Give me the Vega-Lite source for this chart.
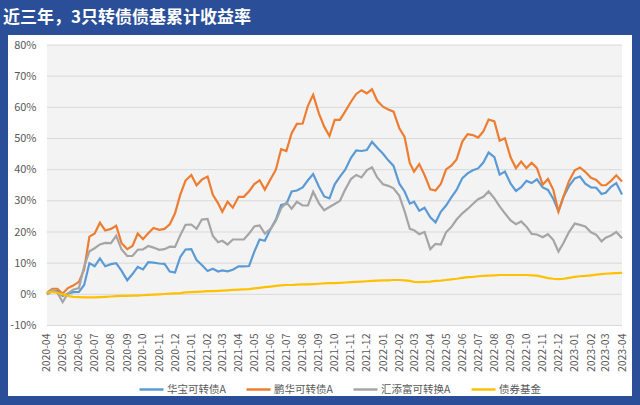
{
  "$schema": "https://vega.github.io/schema/vega-lite/v6.json",
  "width": 624,
  "height": 361,
  "autosize": {"type": "none"},
  "padding": {"left": 8, "right": 8, "top": 35, "bottom": 9},
  "background": "#2A4F98",
  "title": {
    "text": "近三年，3只转债债基累计收益率",
    "anchor": "start",
    "frame": "group",
    "color": "#FFFFFF",
    "font": "Noto Sans CJK SC",
    "fontSize": 17,
    "fontWeight": "bold",
    "dx": -5,
    "offset": 8
  },
  "config": {
    "font": "Noto Sans CJK SC",
    "view": {"fill": "#FFFFFF", "stroke": null},
    "axisX": {
      "offset": -70,
      "tickCount": {"interval": "month", "step": 1},
      "labelExpr": "datum.value < datetime(2020, 2, 15) ? '' : timeFormat(datum.value, '%Y-%m')",
      "labelAngle": -90,
      "labelFontSize": 10.5,
      "labelColor": "#595959",
      "labelPadding": 7,
      "labelOverlap": false,
      "labelFlush": false,
      "labelBound": false,
      "ticks": false,
      "domain": false,
      "grid": false,
      "title": null
    },
    "axisY": {
      "offset": -30,
      "labelFontSize": 11,
      "labelColor": "#595959",
      "labelPadding": 2,
      "labelFlush": false,
      "labelOverlap": false,
      "ticks": false,
      "domain": false,
      "grid": false,
      "title": null
    }
  },
  "datasets": {
    "grid": [{"g": -10}, {"g": 0}, {"g": 10}, {"g": 20}, {"g": 30}, {"g": 40}, {"g": 50}, {"g": 60}, {"g": 70}, {"g": 80}],
    "funds": [
      {"date": "2020/04/01", "华宝可转债A": 0, "鹏华可转债A": 0.5, "汇添富可转换A": 0, "债券基金": 0.5},
      {"date": "2020/04/11", "华宝可转债A": 1, "鹏华可转债A": 1.8, "汇添富可转换A": 1.5, "债券基金": 0.8},
      {"date": "2020/04/21", "华宝可转债A": 1, "鹏华可转债A": 1.8, "汇添富可转换A": 0.5, "债券基金": 0.5},
      {"date": "2020/05/01", "华宝可转债A": -0.5, "鹏华可转债A": 0.2, "汇添富可转换A": -2.5, "债券基金": 0},
      {"date": "2020/05/11", "华宝可转债A": 0.2, "鹏华可转债A": 2, "汇添富可转换A": 0.3, "债券基金": -0.5},
      {"date": "2020/05/21", "华宝可转债A": 0.7, "鹏华可转债A": 2.8, "汇添富可转换A": 1.5, "债券基金": -0.8},
      {"date": "2020/06/01", "华宝可转债A": 0.8, "鹏华可转债A": 4, "汇添富可转换A": 2, "债券基金": -0.9},
      {"date": "2020/06/11", "华宝可转债A": 3, "鹏华可转债A": 8, "汇添富可转换A": 9, "债券基金": -1},
      {"date": "2020/06/21", "华宝可转债A": 10, "鹏华可转债A": 18.5, "汇添富可转换A": 13.8, "债券基金": -1},
      {"date": "2020/07/01", "华宝可转债A": 9, "鹏华可转债A": 19.5, "汇添富可转换A": 14.8, "债券基金": -1},
      {"date": "2020/07/11", "华宝可转债A": 11.5, "鹏华可转债A": 23, "汇添富可转换A": 16, "债券基金": -0.9},
      {"date": "2020/07/21", "华宝可转债A": 9, "鹏华可转债A": 20.5, "汇添富可转换A": 16.5, "债券基金": -0.8},
      {"date": "2020/08/01", "华宝可转债A": 9.7, "鹏华可转债A": 21, "汇添富可转换A": 16.4, "债券基金": -0.7},
      {"date": "2020/08/11", "华宝可转债A": 10, "鹏华可转债A": 22, "汇添富可转换A": 18.8, "债券基金": -0.6},
      {"date": "2020/08/21", "华宝可转债A": 7.6, "鹏华可转债A": 16.5, "汇添富可转换A": 14.5, "债券基金": -0.5},
      {"date": "2020/09/01", "华宝可转债A": 4.5, "鹏华可转债A": 14.5, "汇添富可转换A": 12.3, "债券基金": -0.5},
      {"date": "2020/09/11", "华宝可转债A": 6.5, "鹏华可转债A": 15.5, "汇添富可转换A": 12.3, "债券基金": -0.4},
      {"date": "2020/09/21", "华宝可转债A": 8.8, "鹏华可转债A": 19.5, "汇添富可转换A": 14.3, "债券基金": -0.4},
      {"date": "2020/10/01", "华宝可转债A": 8, "鹏华可转债A": 17.7, "汇添富可转换A": 14.4, "债券基金": -0.3},
      {"date": "2020/10/11", "华宝可转债A": 10.3, "鹏华可转债A": 19.6, "汇添富可转换A": 15.5, "债券基金": -0.2},
      {"date": "2020/10/21", "华宝可转债A": 10.2, "鹏华可转债A": 21.3, "汇添富可转换A": 15, "债券基金": -0.1},
      {"date": "2020/11/01", "华宝可转债A": 9.9, "鹏华可转债A": 20.7, "汇添富可转换A": 14.3, "债券基金": 0},
      {"date": "2020/11/11", "华宝可转债A": 9.8, "鹏华可转债A": 21, "汇添富可转换A": 14.5, "债券基金": 0.1},
      {"date": "2020/11/21", "华宝可转债A": 7.3, "鹏华可转债A": 22.5, "汇添富可转换A": 15.3, "债券基金": 0.2},
      {"date": "2020/12/01", "华宝可转债A": 7, "鹏华可转债A": 26, "汇添富可转换A": 15.2, "债券基金": 0.3},
      {"date": "2020/12/11", "华宝可转债A": 12, "鹏华可转债A": 32, "汇添富可转换A": 19, "债券基金": 0.4},
      {"date": "2020/12/21", "华宝可转债A": 14.4, "鹏华可转债A": 36.5, "汇添富可转换A": 22.3, "债券基金": 0.6},
      {"date": "2021/01/01", "华宝可转债A": 14.5, "鹏华可转债A": 38.3, "汇添富可转换A": 22.4, "债券基金": 0.7},
      {"date": "2021/01/11", "华宝可转债A": 11, "鹏华可转债A": 35, "汇添富可转换A": 21, "债券基金": 0.8},
      {"date": "2021/01/21", "华宝可转债A": 9.4, "鹏华可转债A": 36.8, "汇添富可转换A": 24, "债券基金": 0.9},
      {"date": "2021/02/01", "华宝可转债A": 7.5, "鹏华可转债A": 37.8, "汇添富可转换A": 24.2, "债券基金": 1.0},
      {"date": "2021/02/11", "华宝可转债A": 8.2, "鹏华可转债A": 31.9, "汇添富可转换A": 18.7, "债券基金": 1.0},
      {"date": "2021/02/21", "华宝可转债A": 7.3, "鹏华可转债A": 29.2, "汇添富可转换A": 16.7, "债券基金": 1.1},
      {"date": "2021/03/01", "华宝可转债A": 7.7, "鹏华可转债A": 26.5, "汇添富可转换A": 17.2, "债券基金": 1.2},
      {"date": "2021/03/11", "华宝可转债A": 7.4, "鹏华可转债A": 29.7, "汇添富可转换A": 16, "债券基金": 1.3},
      {"date": "2021/03/21", "华宝可转债A": 7.9, "鹏华可转债A": 27.8, "汇添富可转换A": 17.6, "债券基金": 1.4},
      {"date": "2021/04/01", "华宝可转债A": 9, "鹏华可转债A": 31.3, "汇添富可转换A": 17.6, "债券基金": 1.5},
      {"date": "2021/04/11", "华宝可转债A": 9, "鹏华可转债A": 31.3, "汇添富可转换A": 17.6, "债券基金": 1.6},
      {"date": "2021/04/21", "华宝可转债A": 9.1, "鹏华可转债A": 33.1, "汇添富可转换A": 19.5, "债券基金": 1.7},
      {"date": "2021/05/01", "华宝可转债A": 13.7, "鹏华可转债A": 35.4, "汇添富可转换A": 21.8, "债券基金": 1.9},
      {"date": "2021/05/11", "华宝可转债A": 17.6, "鹏华可转债A": 36.6, "汇添富可转换A": 22.1, "债券基金": 2.1},
      {"date": "2021/05/21", "华宝可转债A": 17.2, "鹏华可转债A": 33.6, "汇添富可转换A": 19.5, "债券基金": 2.3},
      {"date": "2021/06/01", "华宝可转债A": 21, "鹏华可转债A": 37, "汇添富可转换A": 21, "债券基金": 2.5},
      {"date": "2021/06/11", "华宝可转债A": 24, "鹏华可转债A": 40, "汇添富可转换A": 23.6, "债券基金": 2.7},
      {"date": "2021/06/21", "华宝可转债A": 28.7, "鹏华可转债A": 46.6, "汇添富可转换A": 27.6, "债券基金": 2.9},
      {"date": "2021/07/01", "华宝可转债A": 29, "鹏华可转债A": 46, "汇添富可转换A": 29.5, "债券基金": 3.0},
      {"date": "2021/07/11", "华宝可转债A": 33, "鹏华可转债A": 51.7, "汇添富可转换A": 27.5, "债券基金": 3.0},
      {"date": "2021/07/21", "华宝可转债A": 33.3, "鹏华可转债A": 54.7, "汇添富可转换A": 29.7, "债券基金": 3.1},
      {"date": "2021/08/01", "华宝可转债A": 34.3, "鹏华可转债A": 54.8, "汇添富可转换A": 28.5, "债券基金": 3.2},
      {"date": "2021/08/11", "华宝可转债A": 36.6, "鹏华可转债A": 60.5, "汇添富可转换A": 28.5, "债券基金": 3.2},
      {"date": "2021/08/21", "华宝可转债A": 38.6, "鹏华可转债A": 64, "汇添富可转换A": 32.9, "债券基金": 3.3},
      {"date": "2021/09/01", "华宝可转债A": 34.5, "鹏华可转债A": 58, "汇添富可转换A": 29.2, "债券基金": 3.4},
      {"date": "2021/09/11", "华宝可转债A": 31.4, "鹏华可转债A": 53.8, "汇添富可转换A": 27, "债券基金": 3.5},
      {"date": "2021/09/21", "华宝可转债A": 30.8, "鹏华可转债A": 50.8, "汇添富可转换A": 28, "债券基金": 3.6},
      {"date": "2021/10/01", "华宝可转债A": 35.3, "鹏华可转债A": 56, "汇添富可转换A": 29, "债券基金": 3.6},
      {"date": "2021/10/11", "华宝可转债A": 37.8, "鹏华可转债A": 56, "汇添富可转换A": 30, "债券基金": 3.7},
      {"date": "2021/10/21", "华宝可转债A": 40, "鹏华可转债A": 58.7, "汇添富可转换A": 33.6, "债券基金": 3.8},
      {"date": "2021/11/01", "华宝可转债A": 43.8, "鹏华可转债A": 61.8, "汇添富可转换A": 37, "债券基金": 3.9},
      {"date": "2021/11/11", "华宝可转债A": 46.2, "鹏华可转债A": 64.3, "汇添富可转换A": 38.3, "债券基金": 4.0},
      {"date": "2021/11/21", "华宝可转债A": 46, "鹏华可转债A": 65.5, "汇添富可转换A": 37.5, "债券基金": 4.1},
      {"date": "2021/12/01", "华宝可转债A": 46.3, "鹏华可转债A": 64.5, "汇添富可转换A": 39.8, "债券基金": 4.2},
      {"date": "2021/12/11", "华宝可转债A": 48.9, "鹏华可转债A": 65.8, "汇添富可转换A": 40.8, "债券基金": 4.3},
      {"date": "2021/12/21", "华宝可转债A": 47, "鹏华可转债A": 62.1, "汇添富可转换A": 37.5, "债券基金": 4.4},
      {"date": "2022/01/01", "华宝可转债A": 45.1, "鹏华可转债A": 60.2, "汇添富可转换A": 35.3, "债券基金": 4.5},
      {"date": "2022/01/11", "华宝可转债A": 43, "鹏华可转债A": 59.3, "汇添富可转换A": 34.8, "债券基金": 4.5},
      {"date": "2022/01/21", "华宝可转债A": 41.2, "鹏华可转债A": 58.6, "汇添富可转换A": 34, "债券基金": 4.6},
      {"date": "2022/02/01", "华宝可转债A": 35.5, "鹏华可转债A": 53.3, "汇添富可转换A": 31.6, "债券基金": 4.6},
      {"date": "2022/02/11", "华宝可转债A": 33, "鹏华可转债A": 50.5, "汇添富可转换A": 26.7, "债券基金": 4.5},
      {"date": "2022/02/21", "华宝可转债A": 29.1, "鹏华可转债A": 42.1, "汇添富可转换A": 21, "债券基金": 4.3},
      {"date": "2022/03/01", "华宝可转债A": 29.7, "鹏华可转债A": 39.4, "汇添富可转换A": 20.6, "债券基金": 4.0},
      {"date": "2022/03/11", "华宝可转债A": 26.8, "鹏华可转债A": 41.8, "汇添富可转换A": 19.3, "债券基金": 3.9},
      {"date": "2022/03/21", "华宝可转债A": 27.8, "鹏华可转债A": 38.3, "汇添富可转换A": 20, "债券基金": 4.0},
      {"date": "2022/04/01", "华宝可转债A": 24.7, "鹏华可转债A": 33.7, "汇添富可转换A": 14.5, "债券基金": 4.1},
      {"date": "2022/04/11", "华宝可转债A": 23.1, "鹏华可转债A": 33.3, "汇添富可转换A": 16.2, "债券基金": 4.3},
      {"date": "2022/04/21", "华宝可转债A": 26.5, "鹏华可转债A": 35.4, "汇添富可转换A": 16, "债券基金": 4.4},
      {"date": "2022/05/01", "华宝可转债A": 28.5, "鹏华可转债A": 40.1, "汇添富可转换A": 19.9, "债券基金": 4.6},
      {"date": "2022/05/11", "华宝可转债A": 31.1, "鹏华可转债A": 41.3, "汇添富可转换A": 21.6, "债券基金": 4.8},
      {"date": "2022/05/21", "华宝可转债A": 33.5, "鹏华可转债A": 43.3, "汇添富可转换A": 24, "债券基金": 5.0},
      {"date": "2022/06/01", "华宝可转债A": 37.3, "鹏华可转债A": 49, "汇添富可转换A": 26, "债券基金": 5.3},
      {"date": "2022/06/11", "华宝可转债A": 38.8, "鹏华可转债A": 51.4, "汇添富可转换A": 27.4, "债券基金": 5.5},
      {"date": "2022/06/21", "华宝可转债A": 39.8, "鹏华可转债A": 51.1, "汇添富可转换A": 29, "债券基金": 5.6},
      {"date": "2022/07/01", "华宝可转债A": 40.4, "鹏华可转债A": 50.3, "汇添富可转换A": 30.5, "债券基金": 5.8},
      {"date": "2022/07/11", "华宝可转债A": 42.3, "鹏华可转债A": 52.3, "汇添富可转换A": 31.3, "债券基金": 5.9},
      {"date": "2022/07/21", "华宝可转债A": 45.5, "鹏华可转债A": 56.1, "汇添富可转换A": 33, "债券基金": 6.0},
      {"date": "2022/08/01", "华宝可转债A": 44, "鹏华可转债A": 55.5, "汇添富可转换A": 30.8, "债券基金": 6.1},
      {"date": "2022/08/11", "华宝可转债A": 38.4, "鹏华可转债A": 49.3, "汇添富可转换A": 28.2, "债券基金": 6.2},
      {"date": "2022/08/21", "华宝可转债A": 39.4, "鹏华可转债A": 50.1, "汇添富可转换A": 26, "债券基金": 6.2},
      {"date": "2022/09/01", "华宝可转债A": 35.5, "鹏华可转债A": 43.9, "汇添富可转换A": 23.7, "债券基金": 6.2},
      {"date": "2022/09/11", "华宝可转债A": 33.2, "鹏华可转债A": 40.5, "汇添富可转换A": 22.5, "债券基金": 6.2},
      {"date": "2022/09/21", "华宝可转债A": 34.4, "鹏华可转债A": 42.6, "汇添富可转换A": 23.4, "债券基金": 6.2},
      {"date": "2022/10/01", "华宝可转债A": 36.4, "鹏华可转债A": 40.5, "汇添富可转换A": 21.7, "债券基金": 6.2},
      {"date": "2022/10/11", "华宝可转债A": 35.7, "鹏华可转债A": 42.2, "汇添富可转换A": 19.4, "债券基金": 6.1},
      {"date": "2022/10/21", "华宝可转债A": 36.9, "鹏华可转债A": 40.5, "汇添富可转换A": 19.2, "债券基金": 6.0},
      {"date": "2022/11/01", "华宝可转债A": 34.3, "鹏华可转债A": 35.2, "汇添富可转换A": 18.3, "债券基金": 5.6},
      {"date": "2022/11/11", "华宝可转债A": 33.5, "鹏华可转债A": 37, "汇添富可转换A": 19.3, "债券基金": 5.2},
      {"date": "2022/11/21", "华宝可转债A": 30.7, "鹏华可转债A": 33.6, "汇添富可转换A": 17.5, "债券基金": 5.0},
      {"date": "2022/12/01", "华宝可转债A": 26.7, "鹏华可转债A": 26.6, "汇添富可转换A": 13.7, "债券基金": 4.9},
      {"date": "2022/12/11", "华宝可转债A": 31.5, "鹏华可转债A": 31.6, "汇添富可转换A": 16.6, "债券基金": 5.0},
      {"date": "2022/12/21", "华宝可转债A": 34.7, "鹏华可转债A": 36.3, "汇添富可转换A": 20, "债券基金": 5.3},
      {"date": "2023/01/01", "华宝可转债A": 37.2, "鹏华可转债A": 39.8, "汇添富可转换A": 22.7, "债券基金": 5.6},
      {"date": "2023/01/11", "华宝可转债A": 37.8, "鹏华可转债A": 40.7, "汇添富可转换A": 22.3, "债券基金": 5.8},
      {"date": "2023/01/21", "华宝可转债A": 35.5, "鹏华可转债A": 39.3, "汇添富可转换A": 21.8, "债券基金": 5.9},
      {"date": "2023/02/01", "华宝可转债A": 34.3, "鹏华可转债A": 37.4, "汇添富可转换A": 19.9, "债券基金": 6.1},
      {"date": "2023/02/11", "华宝可转债A": 34.2, "鹏华可转债A": 36.7, "汇添富可转换A": 19.1, "债券基金": 6.3},
      {"date": "2023/02/21", "华宝可转债A": 32.2, "鹏华可转债A": 35, "汇添富可转换A": 17, "债券基金": 6.5},
      {"date": "2023/03/01", "华宝可转债A": 32.6, "鹏华可转债A": 35, "汇添富可转换A": 18.2, "债券基金": 6.6},
      {"date": "2023/03/11", "华宝可转债A": 34.5, "鹏华可转债A": 36.4, "汇添富可转换A": 18.9, "债券基金": 6.7},
      {"date": "2023/03/21", "华宝可转债A": 35.7, "鹏华可转债A": 38.2, "汇添富可转换A": 20, "债券基金": 6.8},
      {"date": "2023/04/01", "华宝可转债A": 32, "鹏华可转债A": 36.2, "汇添富可转换A": 18, "债券基金": 6.9}
    ]
  },
  "layer": [
    {
      "data": {"values": [{}]},
      "mark": {"type": "rect", "fill": "#F3F3F3"},
      "encoding": {
        "x": {"datum": {"year": 2020, "month": 4, "date": 1}, "type": "temporal",
              "scale": {"domain": [{"year": 2020, "month": 1, "date": 18}, {"year": 2023, "month": 4, "date": 20}]}},
        "x2": {"datum": {"year": 2023, "month": 4, "date": 1}},
        "y": {"datum": 80, "type": "quantitative",
              "scale": {"domain": [-32.62, 83.21], "nice": false, "zero": false},
              "axis": {"values": [-10, 0, 10, 20, 30, 40, 50, 60, 70, 80], "labelExpr": "datum.value + '%'"}},
        "y2": {"datum": -10}
      }
    },
    {
      "data": {"name": "grid"},
      "mark": {"type": "rule", "stroke": "#D9D9D9", "strokeWidth": 1},
      "encoding": {
        "x": {"datum": {"year": 2020, "month": 4, "date": 1}, "type": "temporal"},
        "x2": {"datum": {"year": 2023, "month": 4, "date": 1}},
        "y": {"field": "g", "type": "quantitative"}
      }
    },
    {
      "data": {"name": "funds"},
      "transform": [
        {"fold": ["华宝可转债A", "鹏华可转债A", "汇添富可转换A", "债券基金"], "as": ["fund", "value"]}
      ],
      "mark": {"type": "line", "strokeWidth": 2.2, "interpolate": "linear"},
      "encoding": {
        "x": {"field": "date", "type": "temporal"},
        "y": {"field": "value", "type": "quantitative"},
        "color": {
          "field": "fund", "type": "nominal",
          "scale": {
            "domain": ["华宝可转债A", "鹏华可转债A", "汇添富可转换A", "债券基金"],
            "range": ["#5B9BD5", "#ED7D31", "#A5A5A5", "#FFC000"]
          },
          "legend": {
            "orient": "none",
            "legendX": 130,
            "legendY": 341,
            "direction": "horizontal",
            "title": null,
            "symbolType": "stroke",
            "symbolSize": 576,
            "symbolStrokeWidth": 2.5,
            "labelFontSize": 10.5,
            "labelColor": "#595959",
            "labelOffset": 2,
            "columnPadding": 15
          }
        }
      }
    }
  ]
}
